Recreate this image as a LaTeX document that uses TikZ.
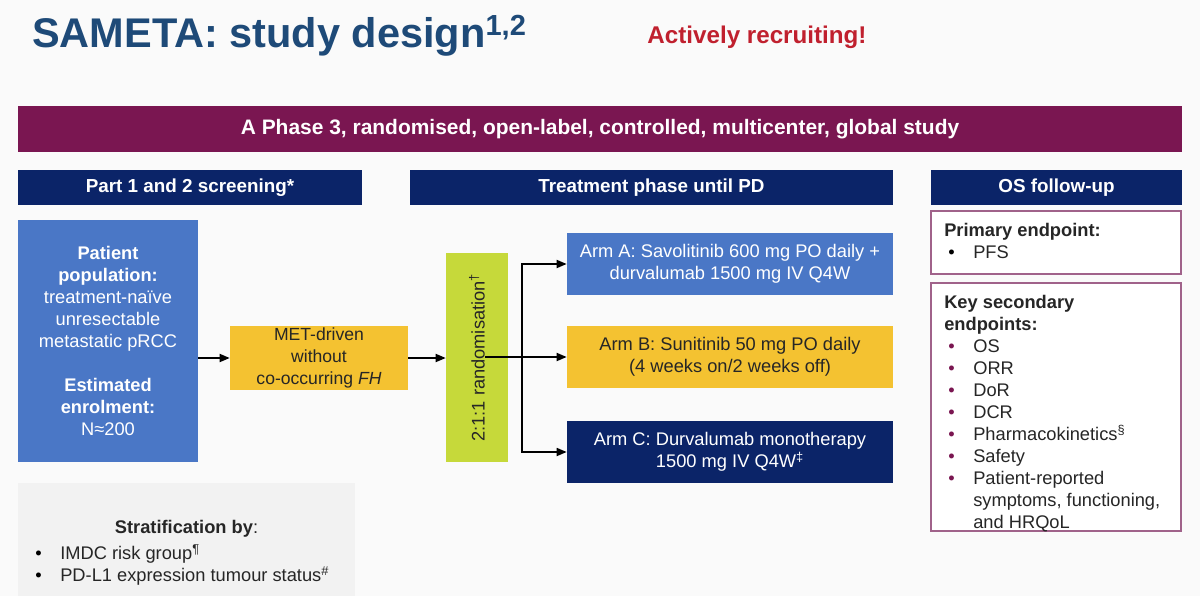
\documentclass[tikz,border=0pt]{standalone}
\usepackage{fontspec}
\setmainfont{Liberation Sans}
\usetikzlibrary{arrows.meta}

% slide colours
\definecolor{navy}{HTML}{0B2468}
\definecolor{plum}{HTML}{7A1651}
\definecolor{armblue}{HTML}{4A77C6}
\definecolor{gold}{HTML}{F4C231}
\definecolor{lime}{HTML}{C6D93A}
\definecolor{endline}{HTML}{A0628A}
\definecolor{titleblue}{HTML}{1E4A78}
\definecolor{recruitred}{HTML}{C0202E}
\definecolor{stratgrey}{HTML}{F2F2F2}

% bullet with fixed indent
\newcommand{\bul}[1][black]{\hspace*{0.1cm}\makebox[0.625cm][l]{\textcolor{#1}{\textbullet}}}

\begin{document}
\begin{tikzpicture}[x=0.025cm, y=-0.025cm,
    every node/.style={font=\fontsize{13}{15.65}\selectfont},
    box/.style={rectangle, inner sep=0pt, align=center},
    hdr/.style={box, fill=navy, text=white, font=\bfseries\fontsize{13.4}{15.65}\selectfont, minimum height=0.875cm},
    arm/.style={box, minimum width=8.15cm, minimum height=1.55cm},
    endbox/.style={draw=endline, line width=1pt, fill=white, minimum width=6.25cm},
    flow/.style={line width=1.2pt, -{Triangle[length=0.25cm,width=0.2cm]}}]

    % Page
    \fill[white!98!black] (0, 0) rectangle (1200, 596);
    \useasboundingbox (0, 0) rectangle (1200, 596);

    % Title line
    \node[anchor=base west, inner sep=0pt, text=titleblue, font=\bfseries\fontsize{29.5}{32}\selectfont] (title) at (32, 48) {SAMETA: study design\textsuperscript{1,2}};
    \node[inner sep=0pt, text=recruitred, font=\bfseries\fontsize{17.2}{20}\selectfont] (recruit) at (757, 37) {Actively recruiting!};

    % Banner
    \node[box, fill=plum, text=white, minimum width=29.1cm, minimum height=1.15cm, font=\bfseries\fontsize{14.9}{17}\selectfont] (banner) at (600, 129) {A Phase 3, randomised, open-label, controlled, multicenter, global study};

    % Phase headers
    \node[hdr, minimum width=8.6cm] (screen) at (190, 187.5) {Part 1 and 2 screening*};
    \node[hdr, minimum width=12.075cm] (treat) at (651.5, 187.5) {Treatment phase until PD};
    \node[hdr, minimum width=6.275cm] (follow) at (1056.5, 187.5) {OS follow-up};

    % Screening column
    \node[box, fill=armblue, text=white, minimum width=4.5cm, minimum height=6.05cm] (patient) at (108, 341)
        {\textbf{Patient}\\ \textbf{population:}\\ treatment-naïve\\ unresectable\\ metastatic pRCC\\[15.65pt] \textbf{Estimated}\\ \textbf{enrolment:}\\ N≈200};
    \node[box, fill=gold, text=black!85, minimum width=4.45cm, minimum height=1.6cm, font=\fontsize{12.5}{15.65}\selectfont] (met) at (319, 358)
        {MET-driven\\ without\\ co-occurring \textit{FH}};
    \node[box, fill=lime, minimum width=1.55cm, minimum height=5.225cm] (rand) at (477, 357.5) {};
    \node[rotate=90, inner sep=0pt, text=black!85] (randtxt) at (rand.center) {2:1:1 randomisation\textsuperscript{\dag}};

    % Treatment arms
    \node[arm, fill=armblue, text=white] (armA) at (730, 264) {Arm A: Savolitinib 600 mg PO daily +\\ durvalumab 1500 mg IV Q4W};
    \node[arm, fill=gold, text=black!85] (armB) at (730, 357) {Arm B: Sunitinib 50 mg PO daily\\ (4 weeks on/2 weeks off)};
    \node[arm, fill=navy, text=white] (armC) at (730, 452) {Arm C: Durvalumab monotherapy\\ 1500 mg IV Q4W\textsuperscript{‡}};

    % Flow arrows
    \draw[flow] (patient.east |- met) -- (met);
    \draw[flow] (met) -- (met -| rand.west);
    \coordinate (split) at (522, 357);
    \draw[line width=1.2pt] (randtxt.south |- split) -- (split);
    \draw[flow] (split) |- (armA);
    \draw[flow] (split) -- (armB);
    \draw[flow] (split) |- (armC);

    % Endpoints
    \node[endbox, minimum height=1.575cm] (prim) at (1056, 242.5) {};
    \node[anchor=north west, inner sep=0pt, align=left, text=black!85] (primtxt) at (944, 223)
        {\textbf{Primary endpoint:}\\ \bul PFS};
    \node[endbox, minimum height=6.2cm] (sec) at (1056, 407) {};
    \node[anchor=north west, inner sep=0pt, align=left, text=black!85] (sectxt) at (944, 295)
        {\textbf{Key secondary}\\ \textbf{endpoints:}\\
         \bul[plum]OS\\ \bul[plum]ORR\\ \bul[plum]DoR\\ \bul[plum]DCR\\
         \bul[plum]Pharmacokinetics\textsuperscript{§}\\ \bul[plum]Safety\\
         \bul[plum]Patient-reported\\ \hspace*{0.725cm}symptoms, functioning,\\ \hspace*{0.725cm}and HRQoL};

    % Stratification
    \fill[stratgrey] (18, 483) rectangle (355, 596);
    \node[inner sep=0pt, text=black!85] (strathead) at (186.5, 529) {\textbf{Stratification by}:};
    \node[anchor=north west, inner sep=0pt, align=left, text=black!85] (stratlist) at (31, 544)
        {\bul IMDC risk group\textsuperscript{¶}\\ \bul PD-L1 expression tumour status\textsuperscript{\#}};
\end{tikzpicture}
\end{document}
